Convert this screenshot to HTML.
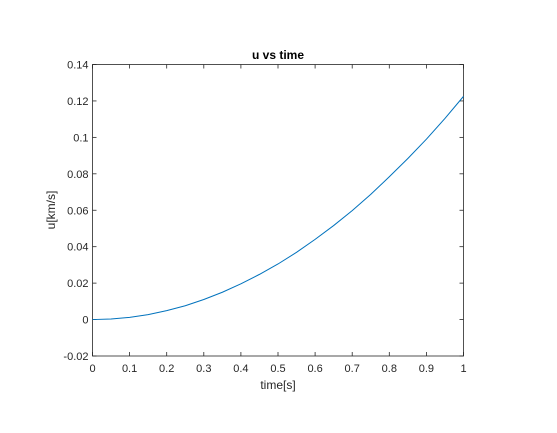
<!DOCTYPE html>
<html><head><meta charset="utf-8"><style>
html,body{margin:0;padding:0;background:#fff;}
svg{display:block;font-family:"Liberation Sans",Arial,sans-serif;}
</style></head><body>
<svg id="chart" width="557" height="433" viewBox="0 0 557 433"></svg>
<script>
const times=[0,0.05,0.1,0.15,0.2,0.25,0.3,0.35,0.4,0.45,0.5,0.55,0.6,0.65,0.7,0.75,0.8,0.85,0.9,0.95,1];
const uValues=[0,0.0003,0.0012,0.0027,0.0049,0.0076,0.0110,0.0150,0.0196,0.0248,0.0305,0.0369,0.0440,0.0516,0.0598,0.0687,0.0784,0.0884,0.0990,0.1104,0.1225];
const xTicks=[0,0.1,0.2,0.3,0.4,0.5,0.6,0.7,0.8,0.9,1];
const xTickLabels=["0","0.1","0.2","0.3","0.4","0.5","0.6","0.7","0.8","0.9","1"];
const yTicks=[-0.02,0,0.02,0.04,0.06,0.08,0.1,0.12,0.14];
const yTickLabels=["-0.02","0","0.02","0.04","0.06","0.08","0.1","0.12","0.14"];
const L=92.5,R=463.5,T=64.5,B=356;
const xs=v=>L+(v-0)/(1-0)*(R-L);
const ys=v=>B-(v+0.02)/(0.16)*(B-T);
const NS="http://www.w3.org/2000/svg";
const svg=document.getElementById('chart');
function mk(tag,attrs,parent){const e=document.createElementNS(NS,tag);for(const k in attrs)e.setAttribute(k,attrs[k]);(parent||svg).appendChild(e);return e;}
const box=mk('rect',{x:L,y:T,width:R-L,height:B-T,fill:'#fff',stroke:'#262626','stroke-width':0.8});


xTicks.forEach((v,i)=>{const x=xs(v);
 mk('line',{x1:x,x2:x,y1:B,y2:B-4,stroke:'#262626','stroke-width':0.8});
 mk('line',{x1:x,x2:x,y1:T,y2:T+4,stroke:'#262626','stroke-width':0.8});
 const t=mk('text',{x:x,y:B+16,'text-anchor':'middle','font-size':11,fill:'#262626'});t.textContent=xTickLabels[i];
 
 
});
yTicks.forEach((v,i)=>{const y=ys(v);
 mk('line',{x1:L,x2:L+4,y1:y,y2:y,stroke:'#262626','stroke-width':0.8});
 mk('line',{x1:R,x2:R-4,y1:y,y2:y,stroke:'#262626','stroke-width':0.8});
 const t=mk('text',{x:L-4,y:y+4,'text-anchor':'end','font-size':11,fill:'#262626'});t.textContent=yTickLabels[i];
 
 
});
const line=mk('polyline',{points:times.map((t,i)=>xs(t)+','+ys(uValues[i])).join(' '),fill:'none',stroke:'#0072bd','stroke-width':1,'stroke-linejoin':'round'});


const title=mk('text',{x:(L+R)/2,y:59,'text-anchor':'middle','font-size':12,'font-weight':'bold',fill:'#000'});title.textContent='u vs time';


const xl=mk('text',{x:(L+R)/2,y:389,'text-anchor':'middle','font-size':12,fill:'#262626'});xl.textContent='time[s]';


const yl=mk('text',{x:0,y:0,'text-anchor':'middle','font-size':12,fill:'#262626',transform:'translate(55,210) rotate(-90)'});yl.textContent='u[km/s]';


</script>
</body></html>
